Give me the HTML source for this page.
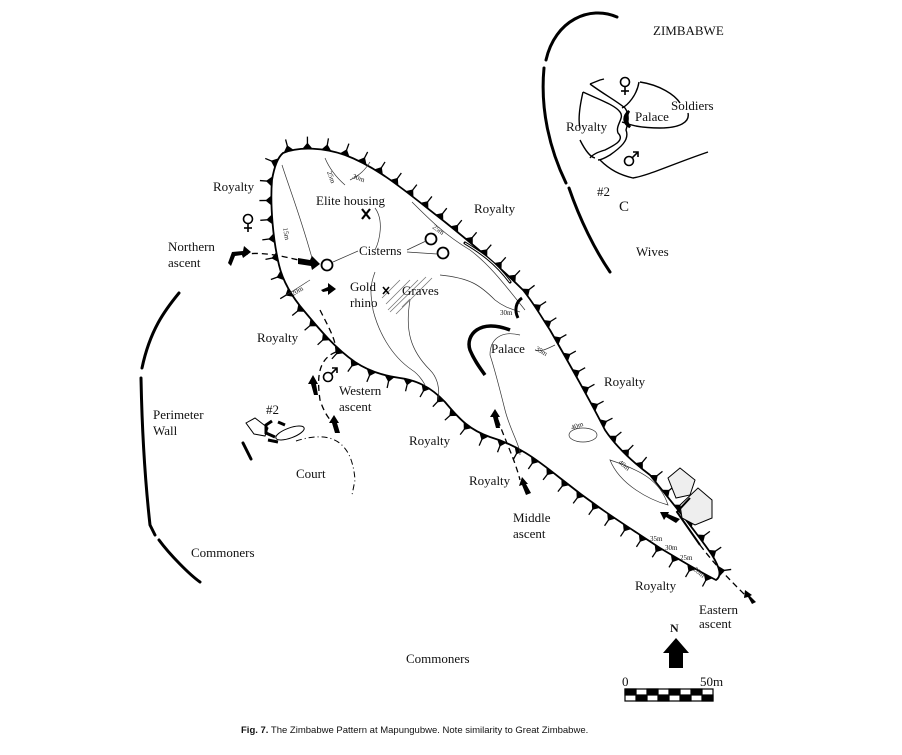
<!DOCTYPE html>
<html><head><meta charset="utf-8"><style>
html,body{margin:0;padding:0;background:#fff}
svg{display:block}
text{font-family:"Liberation Serif",serif;fill:#111}
.t{font-size:13px}
.s{font-size:7px}
</style></head><body>
<svg id="m" width="902" height="755" viewBox="0 0 902 755" xmlns="http://www.w3.org/2000/svg">
<defs>
<g id="fem" fill="none" stroke="#000" stroke-width="1.6"><circle cx="0" cy="0" r="4.5"/><line x1="0" y1="4.5" x2="0" y2="13"/><line x1="-4" y1="9" x2="4" y2="9"/></g>
<g id="mal" fill="none" stroke="#000" stroke-width="1.6"><circle cx="0" cy="0" r="4.5"/><line x1="3.2" y1="-3.2" x2="9" y2="-9"/><polyline points="4,-9 9,-9 9,-4"/></g>
</defs>
<g id="ticks"></g>
<path id="hill" d="M283,153 C300,146 325,148 345,155 C380,168 410,195 445,222 C480,250 505,272 523,290 C535,305 542,318 550,330 C570,365 590,400 605,430 C615,445 630,460 650,475 C670,500 695,530 712,555 C720,568 722,576 716,580 C700,572 680,560 660,548 C630,528 600,510 560,478 C535,458 517,445 490,437 C470,430 460,420 445,402 C430,386 415,380 400,378 C385,376 370,372 355,362 C335,348 320,330 305,312 C292,297 283,282 279,265 C273,240 270,205 272,180 C274,168 277,158 283,153 Z" fill="none" stroke="#000" stroke-width="1.8"/>
<g fill="none" stroke="#333" stroke-width="0.7">
<path d="M282,165 C290,190 300,215 312,258"/>
<path d="M325,158 C330,170 337,178 345,185"/>
<path d="M370,162 C365,170 360,175 350,180"/>
<path d="M375,208 C384,220 380,240 375,250"/>
<path d="M412,202 C430,220 445,235 470,250 C490,265 505,285 525,310"/>
<path d="M375,272 C368,290 372,300 373,310 C378,330 390,355 412,370 C420,375 425,385 425,385"/>
<path d="M410,300 C405,330 410,350 430,370 C438,378 440,390 438,400"/>
<path d="M440,275 C470,278 480,285 495,300 C505,308 515,310 520,312"/>
<path d="M520,335 C500,330 490,340 490,355 C495,370 500,390 505,410 C510,430 520,445 520,455"/>
<path d="M555,345 C545,350 540,352 535,350"/>
<ellipse cx="583" cy="435" rx="14" ry="7"/>
<path d="M610,460 C640,470 660,480 668,505 C650,500 620,485 610,460Z"/>
<path d="M286,295 C295,290 302,285 310,280"/>
</g>
<g class="s">
<text x="327" y="172" transform="rotate(70 327 172)">25m</text>
<text x="352" y="178" transform="rotate(20 352 178)">30m</text>
<text x="283" y="228" transform="rotate(80 283 228)">15m</text>
<text x="293" y="296" transform="rotate(-30 293 296)">20m</text>
<text x="432" y="228" transform="rotate(35 432 228)">25m</text>
<text x="500" y="315">30m</text>
<text x="535" y="350" transform="rotate(30 535 350)">35m</text>
<text x="572" y="430" transform="rotate(-20 572 430)">40m</text>
<text x="618" y="463" transform="rotate(40 618 463)">40m</text>
<text x="650" y="541">35m</text>
<text x="665" y="550">30m</text>
<text x="680" y="560">25m</text>
<text x="693" y="570" transform="rotate(40 693 570)">20m</text>
</g>
<g stroke="#777" stroke-width="0.8">
<line x1="382" y1="298" x2="400" y2="280"/><line x1="386" y1="304" x2="410" y2="280"/><line x1="388" y1="310" x2="418" y2="280"/><line x1="390" y1="312" x2="426" y2="277"/><line x1="396" y1="314" x2="432" y2="278"/><line x1="402" y1="307" x2="410" y2="299"/>
</g>
<g fill="none" stroke="#000" stroke-width="1.8">
<circle cx="327" cy="265" r="5.5"/><circle cx="431" cy="239" r="5.5"/><circle cx="443" cy="253" r="5.5"/>
</g>
<g stroke="#333" stroke-width="0.7"><line x1="333" y1="262" x2="358" y2="251"/><line x1="407" y1="250" x2="426" y2="241"/><line x1="407" y1="252" x2="437" y2="254"/></g>
<path d="M510,330 C480,318 465,335 470,350 C474,360 480,368 485,375" fill="none" stroke="#000" stroke-width="3.5"/>
<path d="M522,298 C516,302 514,310 518,318" fill="none" stroke="#000" stroke-width="3"/>
<path d="M465,243 C480,252 495,262 510,282" fill="none" stroke="#000" stroke-width="3" stroke-linecap="round"/>
<path d="M465,243 C480,252 495,262 510,282" fill="none" stroke="#fff" stroke-width="1"/>
<g fill="#eee" stroke="#000" stroke-width="1">
<path d="M668,478 L680,468 L695,480 L690,495 L676,498 Z"/>
<path d="M680,505 L698,488 L712,500 L712,518 L695,525 L682,518 Z"/>
</g>
<path d="M690,498 L677,512 L700,545" fill="none" stroke="#000" stroke-width="2"/>
<g fill="none" stroke="#000" stroke-width="3" stroke-linecap="round">
<path d="M179,293 C165,310 150,330 142,368"/>
<path d="M141,378 C142,430 145,480 150,525 L155,535"/>
<path d="M159,540 C170,555 190,575 200,582"/>
<line x1="243" y1="443" x2="251" y2="459"/>
<path d="M617,17 C590,5 555,20 546,60"/>
<path d="M544,68 C540,110 550,150 566,183"/>
<path d="M569,188 C580,220 595,250 610,272"/>
</g>
<path d="M296,441 C330,430 352,440 355,480 L352,495" fill="none" stroke="#000" stroke-width="1" stroke-dasharray="6,3,1,3"/>
<g stroke="#000" fill="#fff" stroke-width="1">
<path d="M246,423 L255,418 L268,428 L265,436 L254,434 Z"/>
<ellipse cx="290" cy="433" rx="15" ry="5" transform="rotate(-20 290 433)"/>
</g>
<path d="M272,421 L266,425 L266,433 L275,437 M278,422 L285,425 M268,440 L278,442" fill="none" stroke="#000" stroke-width="3"/>
<g fill="none" stroke="#000" stroke-width="1.3" stroke-dasharray="6,4">
<path d="M242,255 C262,250 290,258 315,264"/>
<path d="M336,352 C315,360 318,385 320,400 C325,415 330,420 335,425"/>
<path d="M320,310 C330,330 336,340 336,352"/>
<path d="M498,420 C505,440 515,460 520,480"/>
<path d="M700,545 C715,565 730,580 745,595"/>
</g>
<g fill="#000">
<path d="M228,263 L232,252 L243,251 L244,246 L251,252 L243,258 L242,255 L235,256 L231,266 Z"/>
<path d="M298,258 L310,260 L312,256 L320,264 L312,270 L311,266 L298,264 Z"/>
<path d="M321,290 L328,287 L328,283 L336,289 L328,295 L328,291 L323,292 Z"/>
<path d="M314,395 L311,384 L308,384 L313,375 L318,384 L316,384 L318,395 Z"/>
<path d="M335,433 L332,423 L329,423 L334,415 L339,423 L337,423 L340,433 Z"/>
<path d="M496,428 L493,417 L490,417 L495,409 L500,417 L498,417 L500,428 Z"/>
<path d="M526,495 L522,485 L519,486 L522,477 L528,484 L526,484 L531,493 Z"/>
<path d="M676,523 L666,517 L664,520 L660,512 L669,512 L668,514 L680,519 Z"/>
<path d="M752,604 L748,597 L744,598 L745,590 L752,595 L750,596 L756,602 Z"/>
<path d="M669,668 L669,653 L663,653 L676,638 L689,653 L683,653 L683,668 Z"/>
</g>
<g stroke="#000" stroke-width="2.2"><line x1="362" y1="209" x2="370" y2="219"/><line x1="370" y1="209" x2="362" y2="219"/>
<line x1="383" y1="287" x2="389" y2="294" stroke-width="1.6"/><line x1="389" y1="287" x2="383" y2="294" stroke-width="1.6"/></g>
<g fill="none" stroke="#000" stroke-width="1.4">
<path d="M590,84 L600,80 L604,79"/>
<path d="M583,92 C580,105 578,120 580,128"/>
<path d="M583,92 C600,100 615,105 620,112 C625,118 615,125 618,133 C625,140 615,145 605,150 C598,152 592,155 590,158"/>
<path d="M590,84 C605,95 615,100 625,108 C630,115 628,123 626,130 C630,140 620,148 610,155 C605,158 600,160 598,160"/>
<path d="M640,82 C660,85 675,95 680,103"/>
<path d="M639,82 C637,95 628,105 622,108"/>
<path d="M688,113 C690,122 680,128 660,128 C640,128 630,125 622,122"/>
<path d="M580,140 C585,150 590,157 595,158"/>
<path d="M600,160 C610,170 620,175 633,178 C650,175 670,165 708,152"/>
</g>
<path d="M629,111 C622,117 624,124 630,127 C626,122 626,116 629,111Z" stroke="#000" stroke-width="2.5" fill="#000"/>
<use href="#fem" x="248" y="219"/>
<use href="#mal" x="328" y="377"/>
<use href="#fem" x="625" y="82"/>
<use href="#mal" x="629" y="161"/>
<g stroke="#000" stroke-width="1.2">
<rect x="625" y="689" width="88" height="12" fill="#fff"/>
<rect x="625" y="689" width="11" height="6" fill="#000"/><rect x="647" y="689" width="11" height="6" fill="#000"/><rect x="669" y="689" width="11" height="6" fill="#000"/><rect x="691" y="689" width="11" height="6" fill="#000"/>
<rect x="636" y="695" width="11" height="6" fill="#000"/><rect x="658" y="695" width="11" height="6" fill="#000"/><rect x="680" y="695" width="11" height="6" fill="#000"/><rect x="702" y="695" width="11" height="6" fill="#000"/>
</g>
<g class="t">
<text x="213" y="191">Royalty</text>
<text x="168" y="251">Northern</text><text x="168" y="267">ascent</text>
<text x="316" y="205">Elite housing</text>
<text x="474" y="213">Royalty</text>
<text x="359" y="255">Cisterns</text>
<text x="350" y="291">Gold</text><text x="350" y="307">rhino</text>
<text x="402" y="295">Graves</text>
<text x="257" y="342">Royalty</text>
<text x="491" y="353">Palace</text>
<text x="339" y="395">Western</text><text x="339" y="411">ascent</text>
<text x="153" y="419">Perimeter</text><text x="153" y="435">Wall</text>
<text x="266" y="414">#2</text>
<text x="604" y="386">Royalty</text>
<text x="409" y="445">Royalty</text>
<text x="296" y="478">Court</text>
<text x="469" y="485">Royalty</text>
<text x="513" y="522">Middle</text><text x="513" y="538">ascent</text>
<text x="191" y="557">Commoners</text>
<text x="635" y="590">Royalty</text>
<text x="699" y="614">Eastern</text><text x="699" y="628">ascent</text>
<text x="406" y="663">Commoners</text>
<text x="670" y="632" font-weight="bold" font-size="12">N</text>
<text x="622" y="686">0</text><text x="700" y="686">50m</text>
<text x="653" y="35">ZIMBABWE</text>
<text x="671" y="110">Soldiers</text>
<text x="635" y="121">Palace</text>
<text x="566" y="131">Royalty</text>
<text x="597" y="196">#2</text><text x="619" y="211" font-size="15">C</text>
<text x="636" y="256">Wives</text>
</g>
<text x="241" y="733" style="font-family:'Liberation Sans',sans-serif;font-size:9.5px"><tspan font-weight="bold">Fig. 7.</tspan> The Zimbabwe Pattern at Mapungubwe. Note similarity to Great Zimbabwe.</text>
</svg>
<script>
(function(){
var p=document.getElementById('hill'),g=document.getElementById('ticks'),L=p.getTotalLength(),h='';
for(var s=6;s<L-6;s+=19){var a=p.getPointAtLength(s),b=p.getPointAtLength(s+1);var dx=b.x-a.x,dy=b.y-a.y,n=Math.hypot(dx,dy)||1;dx/=n;dy/=n;var nx=dy,ny=-dx;
h+='<line x1="'+a.x+'" y1="'+a.y+'" x2="'+(a.x+nx*12)+'" y2="'+(a.y+ny*12)+'" stroke="#000" stroke-width="1.3"/>';
h+='<polygon points="'+(a.x-dx*5)+','+(a.y-dy*5)+' '+(a.x+dx*5)+','+(a.y+dy*5)+' '+(a.x+nx*6)+','+(a.y+ny*6)+'" fill="#000"/>';}
g.innerHTML=h;})();
</script>
</body></html>
